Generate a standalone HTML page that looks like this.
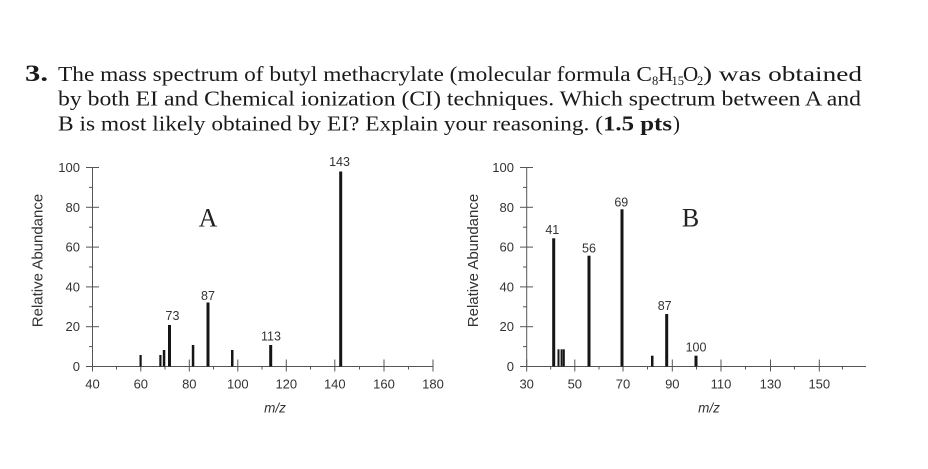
<!DOCTYPE html>
<html>
<head>
<meta charset="utf-8">
<style>
  html,body{margin:0;padding:0;background:#fff;}
  svg{display:block;}
  .q{font-family:"Liberation Serif",serif;font-size:21px;fill:#1a1a1a;}
  .qs{font-family:"Liberation Serif",serif;font-size:12.5px;fill:#1a1a1a;}
  .tk{font-family:"Liberation Sans",sans-serif;font-size:13px;fill:#333;}
  .pk{font-family:"Liberation Sans",sans-serif;font-size:12.5px;fill:#333;}
  .ttl{font-family:"Liberation Sans",sans-serif;font-size:15px;fill:#333;}
  .mz{font-family:"Liberation Sans",sans-serif;font-size:13.5px;font-style:italic;fill:#333;}
  .big{font-family:"Liberation Serif",serif;font-size:26px;fill:#222;}
</style>
</head>
<body>
<svg width="928" height="469" viewBox="0 0 928 469" xmlns="http://www.w3.org/2000/svg">
  <rect width="928" height="469" fill="#fff"/>

  <!-- Question text -->
  <text x="25" y="81" font-family="Liberation Serif, serif" font-size="23" font-weight="bold" fill="#1a1a1a" textLength="23" lengthAdjust="spacingAndGlyphs">3.</text>
  <text class="q" x="58" y="81" textLength="594" lengthAdjust="spacingAndGlyphs">The mass spectrum of butyl methacrylate (molecular formula C</text>
  <text class="qs" x="652" y="85">8</text>
  <text class="q" x="658" y="81">H</text>
  <text class="qs" x="671.5" y="85">15</text>
  <text class="q" x="683" y="81">O</text>
  <text class="qs" x="697" y="85">2</text>
  <text class="q" x="703" y="81" textLength="159" lengthAdjust="spacingAndGlyphs">) was obtained</text>
  <text class="q" x="58" y="105.5" textLength="803" lengthAdjust="spacingAndGlyphs">by both EI and Chemical ionization (CI) techniques. Which spectrum between A and</text>
  <text class="q" x="58" y="130.5" textLength="545" lengthAdjust="spacingAndGlyphs">B is most likely obtained by EI? Explain your reasoning. (</text>
  <text class="q" x="603" y="130.5" font-weight="bold" textLength="69" lengthAdjust="spacingAndGlyphs">1.5 pts</text>
  <text class="q" x="673" y="130.5">)</text>

  <!-- ================= Chart A ================= -->
  <g stroke="#555" stroke-width="1" fill="none">
    <line x1="92.5" y1="167" x2="92.5" y2="366.5"/>
    <line x1="92.5" y1="366.5" x2="433.5" y2="366.5"/>
    <line x1="86" y1="167.5" x2="99" y2="167.5"/>
    <line x1="86" y1="207.3" x2="99" y2="207.3"/>
    <line x1="86" y1="247.1" x2="99" y2="247.1"/>
    <line x1="86" y1="286.9" x2="99" y2="286.9"/>
    <line x1="86" y1="326.7" x2="99" y2="326.7"/>
    <line x1="86" y1="366.5" x2="99" y2="366.5"/>
    <line x1="89" y1="187.4" x2="92.5" y2="187.4"/>
    <line x1="89" y1="227.2" x2="92.5" y2="227.2"/>
    <line x1="89" y1="267" x2="92.5" y2="267"/>
    <line x1="89" y1="306.8" x2="92.5" y2="306.8"/>
    <line x1="89" y1="346.6" x2="92.5" y2="346.6"/>
    <line x1="92.5" y1="359.5" x2="92.5" y2="371.5"/>
    <line x1="140.8" y1="359.5" x2="140.8" y2="371.5"/>
    <line x1="189.3" y1="359.5" x2="189.3" y2="371.5"/>
    <line x1="237.8" y1="359.5" x2="237.8" y2="371.5"/>
    <line x1="286.3" y1="359.5" x2="286.3" y2="371.5"/>
    <line x1="334.8" y1="359.5" x2="334.8" y2="371.5"/>
    <line x1="384" y1="359.5" x2="384" y2="371.5"/>
    <line x1="433" y1="359.5" x2="433" y2="371.5"/>
    <line x1="116.5" y1="366.5" x2="116.5" y2="369.5"/>
    <line x1="165" y1="366.5" x2="165" y2="369.5"/>
    <line x1="213.5" y1="366.5" x2="213.5" y2="369.5"/>
    <line x1="262" y1="366.5" x2="262" y2="369.5"/>
    <line x1="310.5" y1="366.5" x2="310.5" y2="369.5"/>
    <line x1="359.5" y1="366.5" x2="359.5" y2="369.5"/>
    <line x1="408.5" y1="366.5" x2="408.5" y2="369.5"/>
  </g>
  <g class="tk" text-anchor="end">
    <text x="80" y="172">100</text>
    <text x="80" y="211.8">80</text>
    <text x="80" y="251.6">60</text>
    <text x="80" y="291.4">40</text>
    <text x="80" y="331.2">20</text>
    <text x="80" y="371">0</text>
  </g>
  <g class="tk" text-anchor="middle">
    <text x="92.5" y="388.5">40</text>
    <text x="140.8" y="388.5">60</text>
    <text x="189.3" y="388.5">80</text>
    <text x="237.8" y="388.5">100</text>
    <text x="286.3" y="388.5">120</text>
    <text x="334.8" y="388.5">140</text>
    <text x="384" y="388.5">160</text>
    <text x="433" y="388.5">180</text>
  </g>
  <g fill="#151515">
    <rect x="139.5" y="355" width="2.2" height="11.5"/>
    <rect x="159.3" y="355" width="2.2" height="11.5"/>
    <rect x="162.8" y="350" width="2.5" height="16.5"/>
    <rect x="168" y="325" width="3" height="41.5"/>
    <rect x="191.8" y="345" width="2.5" height="21.5"/>
    <rect x="206.5" y="302.5" width="3" height="64"/>
    <rect x="231" y="350" width="2.5" height="16.5"/>
    <rect x="269.2" y="345" width="3" height="21.5"/>
    <rect x="339.2" y="171.5" width="3" height="195"/>
  </g>
  <g class="pk" text-anchor="middle">
    <text x="172.5" y="320">73</text>
    <text x="208" y="300">87</text>
    <text x="271" y="340.5">113</text>
    <text x="339.5" y="166">143</text>
  </g>
  <text class="big" x="208" y="226.5" text-anchor="middle">A</text>
  <text class="ttl" transform="translate(42.5,260.5) rotate(-90)" text-anchor="middle">Relative Abundance</text>
  <text class="mz" x="275" y="412.5" text-anchor="middle">m/z</text>

  <!-- ================= Chart B ================= -->
  <g stroke="#555" stroke-width="1" fill="none">
    <line x1="526.7" y1="167" x2="526.7" y2="366.5"/>
    <line x1="526.7" y1="366.5" x2="866" y2="366.5"/>
    <line x1="520" y1="167.5" x2="533" y2="167.5"/>
    <line x1="520" y1="207.3" x2="533" y2="207.3"/>
    <line x1="520" y1="247.1" x2="533" y2="247.1"/>
    <line x1="520" y1="286.9" x2="533" y2="286.9"/>
    <line x1="520" y1="326.7" x2="533" y2="326.7"/>
    <line x1="520" y1="366.5" x2="533" y2="366.5"/>
    <line x1="523" y1="187.4" x2="526.7" y2="187.4"/>
    <line x1="523" y1="227.2" x2="526.7" y2="227.2"/>
    <line x1="523" y1="267" x2="526.7" y2="267"/>
    <line x1="523" y1="306.8" x2="526.7" y2="306.8"/>
    <line x1="523" y1="346.6" x2="526.7" y2="346.6"/>
    <line x1="526.7" y1="359.5" x2="526.7" y2="371.5"/>
    <line x1="574.8" y1="359.5" x2="574.8" y2="371.5"/>
    <line x1="623" y1="359.5" x2="623" y2="371.5"/>
    <line x1="672.3" y1="359.5" x2="672.3" y2="371.5"/>
    <line x1="721" y1="359.5" x2="721" y2="371.5"/>
    <line x1="770.5" y1="359.5" x2="770.5" y2="371.5"/>
    <line x1="819.3" y1="359.5" x2="819.3" y2="371.5"/>
    <line x1="550.7" y1="366.5" x2="550.7" y2="369.5"/>
    <line x1="599" y1="366.5" x2="599" y2="369.5"/>
    <line x1="647.5" y1="366.5" x2="647.5" y2="369.5"/>
    <line x1="696.5" y1="366.5" x2="696.5" y2="369.5"/>
    <line x1="745.5" y1="366.5" x2="745.5" y2="369.5"/>
    <line x1="794.5" y1="366.5" x2="794.5" y2="369.5"/>
    <line x1="842.5" y1="366.5" x2="842.5" y2="369.5"/>
  </g>
  <g class="tk" text-anchor="end">
    <text x="514" y="172">100</text>
    <text x="514" y="211.8">80</text>
    <text x="514" y="251.6">60</text>
    <text x="514" y="291.4">40</text>
    <text x="514" y="331.2">20</text>
    <text x="514" y="371">0</text>
  </g>
  <g class="tk" text-anchor="middle">
    <text x="526.7" y="388.5">30</text>
    <text x="574.8" y="388.5">50</text>
    <text x="623" y="388.5">70</text>
    <text x="672.3" y="388.5">90</text>
    <text x="721" y="388.5">110</text>
    <text x="770.5" y="388.5">130</text>
    <text x="819.3" y="388.5">150</text>
  </g>
  <g fill="#151515">
    <rect x="552.2" y="238.3" width="3" height="128.2"/>
    <rect x="557.5" y="349.3" width="2" height="17.2"/>
    <rect x="560.6" y="349.3" width="2" height="17.2"/>
    <rect x="562.8" y="349.3" width="2" height="17.2"/>
    <rect x="587.5" y="255.7" width="3" height="110.8"/>
    <rect x="620.5" y="209.3" width="3" height="157.2"/>
    <rect x="651" y="355.7" width="2.5" height="10.8"/>
    <rect x="665.2" y="314" width="3" height="52.5"/>
    <rect x="694.5" y="355.7" width="3" height="10.8"/>
  </g>
  <g class="pk" text-anchor="middle">
    <text x="552.3" y="234">41</text>
    <text x="589" y="252.5">56</text>
    <text x="621.3" y="206.5">69</text>
    <text x="664.7" y="310">87</text>
    <text x="696" y="351.5">100</text>
  </g>
  <text class="big" x="690.5" y="226.5" text-anchor="middle">B</text>
  <text class="ttl" transform="translate(478,260.5) rotate(-90)" text-anchor="middle">Relative Abundance</text>
  <text class="mz" x="709" y="412.5" text-anchor="middle">m/z</text>
</svg>
</body>
</html>
